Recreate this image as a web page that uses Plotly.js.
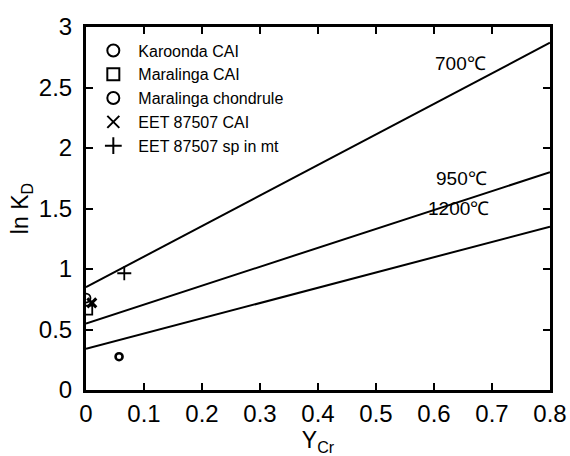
<!DOCTYPE html>
<html>
<head>
<meta charset="utf-8">
<script src="https://cdn.plot.ly/plotly-3.0.1.min.js"></script>
<style>html,body{margin:0;padding:0;background:#fff;}#chart{width:570px;height:456px;}</style>
</head>
<body>
<div id="chart"></div>
<script>
// Isotherm lines (endpoints)
const lineX = [0, 0.8];
const line700 = [0.85, 2.87];
const line950 = [0.55, 1.80];
const line1200 = [0.34, 1.35];
const lineLabels = ["700℃", "950℃", "1200℃"];
const labelX = [0.645, 0.648, 0.642];
const labelY = [2.70, 1.75, 1.50];

// Data points
const seriesNames = ["Karoonda CAI", "Maralinga CAI", "Maralinga chondrule", "EET 87507 CAI", "EET 87507 sp in mt"];
const karoondaX = [0.0], karoondaY = [0.76];
const maralingaCaiX = [0.003], maralingaCaiY = [0.66];
const chondruleX = [0.057], chondruleY = [0.275];
const eetCaiX = [0.01], eetCaiY = [0.72];
const eetSpX = [0.066], eetSpY = [0.965];

const tickX = [0, 0.1, 0.2, 0.3, 0.4, 0.5, 0.6, 0.7, 0.8];
const tickXText = ["0", "0.1", "0.2", "0.3", "0.4", "0.5", "0.6", "0.7", "0.8"];
const tickY = [0, 0.5, 1, 1.5, 2, 2.5, 3];
const tickYText = ["0", "0.5", "1", "1.5", "2", "2.5", "3"];

const lineStyle = {color: "#000", width: 2};
const traces = [
  {x: lineX, y: line700, mode: "lines", line: lineStyle, showlegend: false, hoverinfo: "skip"},
  {x: lineX, y: line950, mode: "lines", line: lineStyle, showlegend: false, hoverinfo: "skip"},
  {x: lineX, y: line1200, mode: "lines", line: lineStyle, showlegend: false, hoverinfo: "skip"},
  {x: karoondaX, y: karoondaY, name: seriesNames[0], mode: "markers", marker: {symbol: "circle-open", size: 9, color: "#000", line: {width: 1.8, color: "#000"}}},
  {x: maralingaCaiX, y: maralingaCaiY, name: seriesNames[1], mode: "markers", marker: {symbol: "square-open", size: 9, color: "#000", line: {width: 1.8, color: "#000"}}},
  {x: chondruleX, y: chondruleY, name: seriesNames[2], mode: "markers", marker: {symbol: "circle-open", size: 7, color: "#000", line: {width: 2.6, color: "#000"}}},
  {x: eetCaiX, y: eetCaiY, name: seriesNames[3], mode: "markers", marker: {symbol: "x-thin-open", size: 9, color: "#000", line: {width: 3, color: "#000"}}},
  {x: eetSpX, y: eetSpY, name: seriesNames[4], mode: "markers", marker: {symbol: "cross-thin-open", size: 10, color: "#000", line: {width: 1.8, color: "#000"}}}
];

const annotations = lineLabels.map((t, i) => ({
  x: labelX[i], y: labelY[i], xref: "x", yref: "y", text: t, showarrow: false,
  font: {family: "Liberation Sans, Arial, sans-serif", size: 19, color: "#000"}
}));

const layout = {
  width: 570, height: 456,
  margin: {l: 86, r: 20, t: 27, b: 66},
  paper_bgcolor: "#fff", plot_bgcolor: "#fff",
  font: {family: "Liberation Sans, Arial, sans-serif", color: "#000"},
  showlegend: true,
  legend: {x: 0.005, y: 0.982, xanchor: "left", yanchor: "top", bgcolor: "rgba(0,0,0,0)",
    font: {size: 16, color: "#000"}, itemsizing: "constant", tracegroupgap: 0, itemwidth: 40},
  xaxis: {range: [0, 0.8], tickmode: "array", tickvals: tickX, ticktext: tickXText,
    ticks: "inside", ticklen: 7, tickwidth: 2, tickcolor: "#000", mirror: "ticks",
    showline: true, linewidth: 3, linecolor: "#000", showgrid: false, zeroline: false,
    tickfont: {size: 24}, title: {text: "Y<sub>Cr</sub>", font: {size: 23}, standoff: 4}},
  yaxis: {range: [0, 3], tickmode: "array", tickvals: tickY, ticktext: tickYText,
    ticks: "inside", ticklen: 7, tickwidth: 2, tickcolor: "#000", mirror: "ticks",
    showline: true, linewidth: 3, linecolor: "#000", showgrid: false, zeroline: false,
    ticklabelstandoff: 6,
    tickfont: {size: 24}, title: {text: "ln K<sub>D</sub>", font: {size: 23}, standoff: 4}},
  annotations: annotations
};

Plotly.newPlot("chart", traces, layout, {displayModeBar: false, staticPlot: true});
</script>
</body>
</html>
